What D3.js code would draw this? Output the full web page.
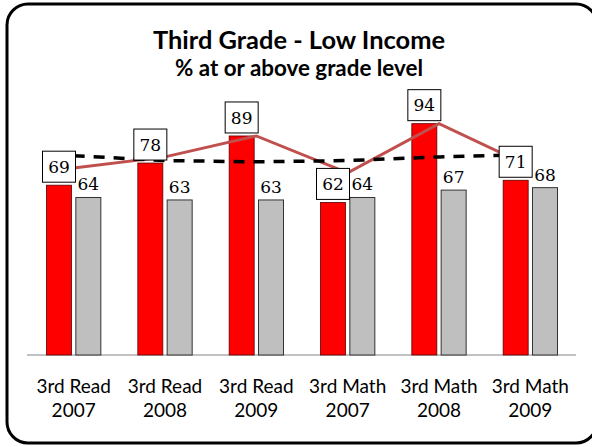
<!DOCTYPE html>
<html>
<head>
<meta charset="utf-8">
<script src="https://cdn.jsdelivr.net/npm/d3@7"></script>
<style>
  html, body { margin: 0; padding: 0; background: #fff; }
  svg { display: block; }
</style>
</head>
<body>
<svg id="chart" width="592" height="447"></svg>
<script>
// ---- data ----
const categories = ["3rd Read 2007", "3rd Read 2008", "3rd Read 2009", "3rd Math 2007", "3rd Math 2008", "3rd Math 2009"];
const catLine1 = ["3rd Read", "3rd Read", "3rd Read", "3rd Math", "3rd Math", "3rd Math"];
const catLine2 = ["2007", "2008", "2009", "2007", "2008", "2009"];
const lowIncome = [69, 78, 89, 62, 94, 71];        // red bars (boxed labels)
const comparison = [64, 63, 63, 64, 67, 68];       // gray bars
const trendLine = [76, 80.5, 89, 74, 94, 76.5];    // solid muted-red line
const dashedLine = [81, 79, 78.5, 79, 80.5, 81.5]; // black dashed line
const titleText = "Third Grade - Low Income";
const subtitleText = "% at or above grade level";

// ---- layout ----
const svg = d3.select("#chart");
const baseY = 355, plotLeft = 28, plotRight = 576;

svg.append("rect")
  .attr("x", 7).attr("y", 4).attr("width", 590).attr("height", 439)
  .attr("rx", 21).attr("ry", 21)
  .attr("fill", "#fff").attr("stroke", "#000").attr("stroke-width", 3);

const x0 = d3.scaleBand().domain(categories).range([plotLeft, plotRight])
  .paddingInner(0.405).paddingOuter(0.2025);
const x1 = d3.scaleBand().domain(["red", "gray"]).range([0, x0.bandwidth()])
  .paddingInner(0.147).paddingOuter(0);
const y = d3.scaleLinear().domain([0, 100]).range([baseY, baseY - 246.1]);

const cx = c => x0(c) + x0.bandwidth() / 2;

function fitText(sel, target) {
  let fs = parseFloat(sel.attr("font-size"));
  for (let i = 0; i < 6; i++) {
    const w = sel.node().getComputedTextLength();
    if (!w) break;
    fs = fs * target / w;
    sel.attr("font-size", fs);
  }
}

// titles
const t1 = svg.append("text").attr("x", 299).attr("y", 49).attr("text-anchor", "middle")
  .attr("font-family", "Lato, 'Open Sans', sans-serif").attr("font-weight", "bold")
  .attr("font-size", 26).attr("fill", "#000").text(titleText);
fitText(t1, 292);
const t2 = svg.append("text").attr("x", 299).attr("y", 76).attr("text-anchor", "middle")
  .attr("font-family", "Lato, 'Open Sans', sans-serif").attr("font-weight", "bold")
  .attr("font-size", 22).attr("fill", "#000").text(subtitleText);
fitText(t2, 248);

// axis baseline
const xAxis = d3.axisBottom(x0).tickSize(0).tickFormat("");
const axG = svg.append("g").attr("transform", `translate(0,${baseY})`).call(xAxis);
axG.select(".domain").attr("stroke", "#868686").attr("stroke-width", 1.2)
  .attr("d", `M${plotLeft - 1},0H${plotRight}`);

// bars
const g = svg.append("g");
categories.forEach((c, i) => {
  g.append("rect")
    .attr("x", x0(c) + x1("red")).attr("width", x1.bandwidth())
    .attr("y", y(lowIncome[i])).attr("height", baseY - y(lowIncome[i]))
    .attr("fill", "#ff0000").attr("stroke", "#5a0000").attr("stroke-width", 0.8);
  g.append("rect")
    .attr("x", x0(c) + x1("gray")).attr("width", x1.bandwidth())
    .attr("y", y(comparison[i])).attr("height", baseY - y(comparison[i]))
    .attr("fill", "#bfbfbf").attr("stroke", "#333").attr("stroke-width", 1);
});

// lines
const lineGen = d3.line().x((d, i) => cx(categories[i])).y(d => y(d));
svg.append("path").datum(trendLine).attr("d", lineGen)
  .attr("fill", "none").attr("stroke", "#c0504d").attr("stroke-width", 3);
svg.append("path").datum(dashedLine).attr("d", lineGen)
  .attr("fill", "none").attr("stroke", "#000").attr("stroke-width", 3.5)
  .attr("stroke-dasharray", "11,9");

// gray value labels
categories.forEach((c, i) => {
  svg.append("text")
    .attr("x", x0(c) + x1("gray") + x1.bandwidth() / 2)
    .attr("y", y(comparison[i]) - 7)
    .attr("text-anchor", "middle")
    .attr("font-family", "'DejaVu Serif', serif").attr("font-size", 17)
    .attr("fill", "#000").text(comparison[i]);
});

// red boxed labels
const boxW = 33, boxH = 31;
categories.forEach((c, i) => {
  const bx = x0(c) + x1("red") + x1.bandwidth() / 2;
  const bottom = y(lowIncome[i]) - 3;
  svg.append("rect")
    .attr("x", bx - boxW / 2).attr("y", bottom - boxH)
    .attr("width", boxW).attr("height", boxH)
    .attr("fill", "#fff").attr("stroke", "#000").attr("stroke-width", 1);
  svg.append("text")
    .attr("x", bx).attr("y", bottom - boxH / 2 + 6.3)
    .attr("text-anchor", "middle")
    .attr("font-family", "'DejaVu Serif', serif").attr("font-size", 17)
    .attr("fill", "#000").text(lowIncome[i]);
});

// category labels
categories.forEach((c, i) => {
  const l1 = svg.append("text").attr("x", cx(c)).attr("y", 393).attr("text-anchor", "middle")
    .attr("font-family", "Lato, 'Open Sans', sans-serif").attr("font-size", 19)
    .attr("fill", "#000").text(catLine1[i]);
  svg.append("text").attr("x", cx(c)).attr("y", 417).attr("text-anchor", "middle")
    .attr("font-family", "Lato, 'Open Sans', sans-serif").attr("font-size", l1.attr("font-size"))
    .attr("fill", "#000").text(catLine2[i]);
});
</script>
</body>
</html>
